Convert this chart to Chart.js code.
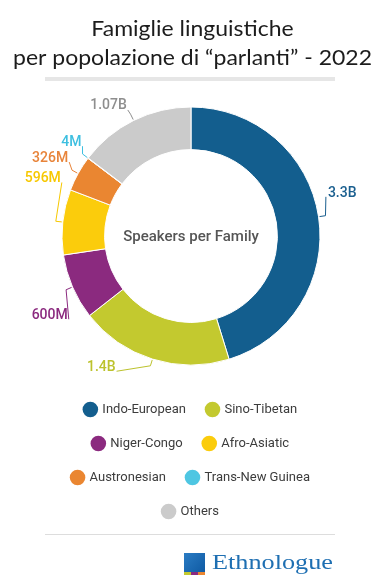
<!DOCTYPE html>
<html><head><meta charset="utf-8">
<script src="https://cdn.jsdelivr.net/npm/chart.js@4.4.1/dist/chart.umd.min.js"></script>
<style>html,body{margin:0;padding:0;background:#fff;}#wrap{width:380px;height:580px;position:relative;}</style>
</head><body><div id="wrap"><canvas id="c" width="380" height="580"></canvas></div>
<script>
const titleLines = ['Famiglie linguistiche', 'per popolazione di \u201cparlanti\u201d - 2022'];
const categories = ['Indo-European', 'Sino-Tibetan', 'Niger-Congo', 'Afro-Asiatic', 'Austronesian', 'Trans-New Guinea', 'Others'];
const speakersMillions = [3300, 1400, 600, 596, 326, 4, 1070];
const valueLabels = ['3.3B', '1.4B', '600M', '596M', '326M', '4M', '1.07B'];
const centerLabel = 'Speakers per Family';
const brandName = 'Ethnologue';

const sliceColors = ['#135e8e', '#c3c92f', '#8b2a7f', '#fbcc0c', '#ea8631', '#4ec6e2', '#cbcbcb'];
const labelColors = ['#1a5f8f', '#bcc22c', '#8b2a7f', '#f7c800', '#e8843a', '#3dbfe0', '#8e8e8e'];

const outLabels = {
  id: 'outLabels',
  afterDatasetsDraw(chart, args, opts) {
    const meta = chart.getDatasetMeta(0);
    const ctx = chart.ctx;
    ctx.save();
    ctx.font = '500 14px Roboto';
    ctx.textBaseline = 'middle';
    ctx.textAlign = 'center';
    let cx = 0, cy = 0;
    meta.data.forEach((arc, i) => {
      const p = arc.getProps(['x', 'y', 'startAngle', 'endAngle', 'outerRadius'], true);
      cx = p.x; cy = p.y;
      const mid = (p.startAngle + p.endAngle) / 2;
      const la = mid + opts.shift[i] * Math.PI / 180;
      const lr = opts.radius[i];
      const tx = p.x + Math.cos(la) * lr, ty = p.y + Math.sin(la) * lr;
      const w = ctx.measureText(valueLabels[i]).width;
      const left = tx < p.x;
      const ax = left ? tx + w / 2 + 1 : tx - w / 2 - 2;
      const ay = ty + (left ? 4 : 3);
      const r0 = p.outerRadius + 1, r1 = p.outerRadius + 7;
      ctx.strokeStyle = labelColors[i];
      ctx.lineWidth = 1;
      ctx.beginPath();
      ctx.moveTo(p.x + Math.cos(mid) * r0, p.y + Math.sin(mid) * r0);
      ctx.lineTo(p.x + Math.cos(mid) * r1, p.y + Math.sin(mid) * r1);
      ctx.lineTo(ax, ay);
      ctx.stroke();
      ctx.fillStyle = labelColors[i];
      ctx.fillText(valueLabels[i], tx, ty);
    });
    ctx.font = '500 15px Roboto';
    ctx.fillStyle = '#555555';
    ctx.fillText(centerLabel, cx, cy + 1);
    ctx.restore();
  }
};

const decor = {
  id: 'decor',
  beforeDraw(chart) {
    const ctx = chart.ctx;
    ctx.save();
    ctx.fillStyle = '#ffffff';
    ctx.fillRect(0, 0, chart.width, chart.height);
    // title
    ctx.font = '22px Lato';
    ctx.fillStyle = '#1c1c1c';
    ctx.textBaseline = 'alphabetic';
    ctx.textAlign = 'center';
    const w2 = ctx.measureText(titleLines[1]).width;
    const sx = 359 / w2;
    [36, 65].forEach((by, i) => {
      ctx.save();
      ctx.translate(192.5, by);
      ctx.scale(sx, 1);
      ctx.fillText(titleLines[i], 0, 0);
      ctx.restore();
    });
    ctx.fillStyle = '#e6e6e6';
    ctx.fillRect(45, 77, 290, 4);
    ctx.restore();
  },
  afterDraw(chart) {
    const ctx = chart.ctx;
    ctx.save();
    ctx.fillStyle = '#dddddd';
    ctx.fillRect(45, 534, 290, 1);
    const g = ctx.createLinearGradient(184, 553, 205, 572);
    g.addColorStop(0, '#2a7cc4');
    g.addColorStop(1, '#0f5aa3');
    ctx.fillStyle = g;
    ctx.fillRect(184, 553, 21, 19);
    ctx.fillStyle = '#c3c92f'; ctx.fillRect(184, 572, 7, 3);
    ctx.fillStyle = '#8b2a7f'; ctx.fillRect(191, 572, 7, 3);
    ctx.fillStyle = '#ea8631'; ctx.fillRect(198, 572, 7, 3);
    ctx.font = '22px "Liberation Serif"';
    ctx.textBaseline = 'alphabetic';
    ctx.textAlign = 'left';
    const w = ctx.measureText(brandName).width;
    ctx.translate(212, 569);
    ctx.scale(121 / w, 1);
    ctx.fillStyle = '#1e6fb2';
    ctx.fillText(brandName, 0, 0);
    ctx.restore();
  }
};

const chart = new Chart(document.getElementById('c'), {
  type: 'doughnut',
  data: {
    labels: categories,
    datasets: [{
      data: speakersMillions,
      backgroundColor: sliceColors,
      borderColor: '#ffffff',
      borderWidth: 1,
      hoverOffset: 0
    }]
  },
  options: {
    responsive: false,
    animation: false,
    radius: 129,
    cutout: '67%',
    layout: { padding: { top: 106, bottom: 52, left: 31, right: 29 } },
    plugins: {
      tooltip: { enabled: false },
      title: { display: false },
      legend: {
        position: 'bottom',
        title: { display: true, text: ' ', padding: 0, font: { size: 10, lineHeight: 1.6 } },
        labels: {
          usePointStyle: true,
          pointStyle: 'circle',
          boxWidth: 11,
          boxHeight: 11,
          padding: 21,
          color: '#3c3c3c',
          font: { family: 'Roboto', size: 13 },
          generateLabels(ch) {
            const items = Chart.overrides.doughnut.plugins.legend.labels.generateLabels(ch);
            items.forEach(it => { it.strokeStyle = it.fillStyle; it.lineWidth = 0; });
            return items;
          }
        }
      },
      outLabels: {
        shift: [-7, 17, -6, 15, 0, 1, -6],
        radius: [157, 159, 162, 159, 161, 152, 154]
      }
    }
  },
  plugins: [decor, outLabels]
});
</script>
</body></html>
